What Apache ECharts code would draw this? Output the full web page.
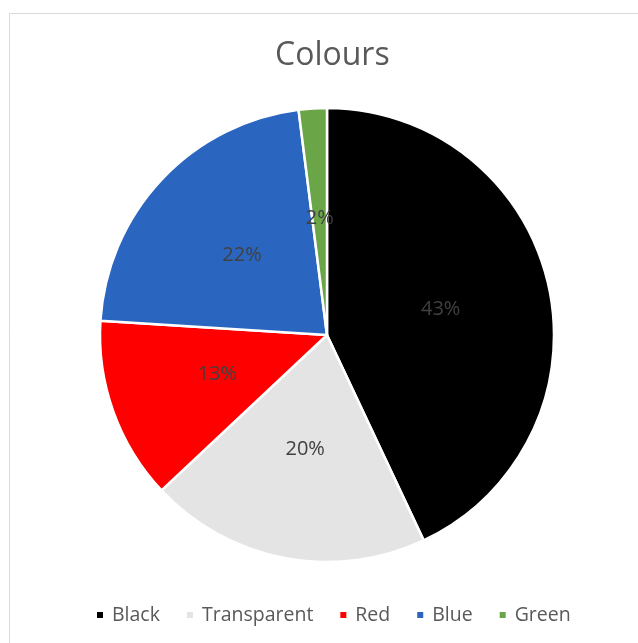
<!DOCTYPE html>
<html>
<head>
<meta charset="utf-8">
<script src="https://cdn.jsdelivr.net/npm/echarts@6/dist/echarts.min.js"></script>
<style>
  html, body { margin: 0; padding: 0; background: #ffffff; }
  #chart { width: 638px; height: 643px; }
</style>
</head>
<body>
<div id="chart"></div>
<script>
// Colour share of items
const categories = ['Black', 'Transparent', 'Red', 'Blue', 'Green'];
const shares = [43, 20, 13, 22, 2];
const sliceColours = ['#000000', '#e4e4e4', '#ff0000', '#2a66c0', '#6aa547'];

const chart = echarts.init(document.getElementById('chart'), null, { renderer: 'canvas' });

const data = categories.map((name, i) => ({
  name: name,
  value: shares[i],
  itemStyle: { color: sliceColours[i] }
}));

chart.setOption({
  animation: false,
  backgroundColor: '#ffffff',
  graphic: [{
    type: 'rect',
    shape: { x: 9.5, y: 13.5, width: 700, height: 700 },
    style: { fill: 'none', stroke: '#d9d9d9', lineWidth: 1 },
    silent: true,
    z: -1
  }],
  title: {
    text: 'Colours',
    left: 270,
    top: 35,
    textStyle: {
      fontFamily: 'Open Sans',
      fontSize: 32,
      fontWeight: 'normal',
      color: '#595959'
    }
  },
  legend: {
    data: categories,
    left: 90,
    top: 600,
    icon: 'rect',
    itemWidth: 8,
    itemHeight: 8,
    itemGap: 25,
    textStyle: {
      fontFamily: 'Open Sans',
      fontSize: 19.5,
      color: '#595959',
      padding: [0, 0, 0, 3]
    }
  },
  series: [{
    type: 'pie',
    center: [327, 335],
    radius: [0, 227],
    startAngle: 90,
    clockwise: true,
    data: data,
    itemStyle: { borderColor: '#ffffff', borderWidth: 2.5 },
    label: {
      show: true,
      position: 'inside',
      formatter: '{c}%',
      fontFamily: 'Open Sans',
      fontSize: 20,
      color: '#404040'
    },
    labelLine: { show: false },
    emphasis: { disabled: true }
  }]
});
</script>
</body>
</html>
